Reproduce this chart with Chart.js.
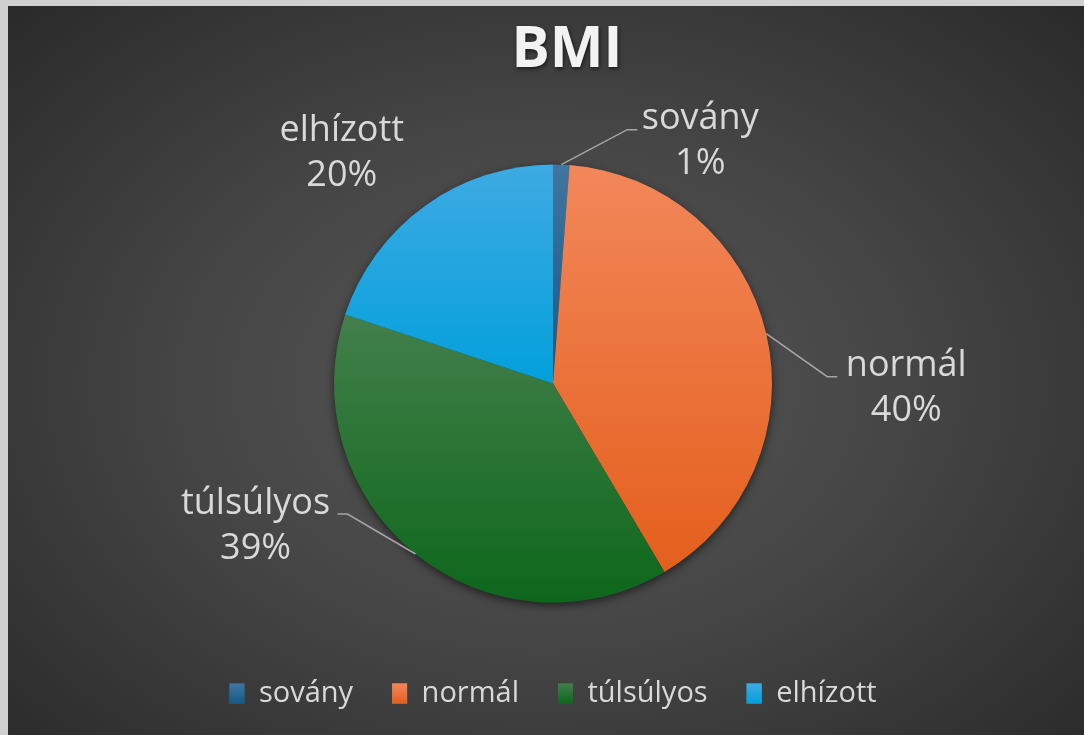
<!DOCTYPE html>
<html>
<head>
<meta charset="utf-8">
<script src="https://cdn.jsdelivr.net/npm/chart.js@4.4.1/dist/chart.umd.min.js"></script>
<style>
  html, body { margin: 0; padding: 0; background: #d0d0d0; overflow: hidden; }
  #wrap {
    position: absolute; left: 8px; top: 6px; width: 1076px; height: 729px;
    background: radial-gradient(ellipse 75% 80% at 50% 52%, #575757 0%, #454545 45%, #262626 100%);
  }
  canvas { display: block; }
</style>
</head>
<body>
<div id="wrap"><canvas id="bmiChart" width="1076" height="729"></canvas></div>
<script>
// BMI categories and their shares (percent)
const categories = ['sovány', 'normál', 'túlsúlyos', 'elhízott'];
const shares = [1.2, 40.3, 38.6, 19.9];
const chartTitle = 'BMI';

// gradient colors per slice: top -> bottom
const topColors = ['#4275a0', '#f2875a', '#437f4b', '#3eaae2'];
const bottomColors = ['#135a88', '#e45f1c', '#0d671b', '#02a0dc'];
const legendColors = ['#24648f', '#ec7237', '#217330', '#1ea4df'];

// where each data label goes relative to the slice edge point
// [elbow dx, elbow dy, text center dx, first line baseline dy, leader?]
const labelPlace = [
    [66, -35, 139, -36, true],
    [61, 43, 140, 42, true],
    [-68, -40, -160, -40, true],
    [0, 0, -83, -65, false]
];

const labelFont = '36px "Open Sans"';
const textColor = '#d9d9d9';

function sliceFill(context) {
    const chart = context.chart;
    const area = chart.chartArea;
    const i = context.dataIndex;
    if (!area || i === undefined) return bottomColors[i || 0];
    const data = chart.data.datasets[0].data;
    const total = data.reduce((a, b) => a + b, 0);
    let cum = 0;
    for (let k = 0; k < i; k++) cum += data[k];
    const a0 = -Math.PI / 2 + 2 * Math.PI * cum / total;
    const a1 = a0 + 2 * Math.PI * data[i] / total;
    const cx = (area.left + area.right) / 2;
    const cy = (area.top + area.bottom) / 2;
    const r = 219;
    let ys = [cy, cy + Math.sin(a0) * r, cy + Math.sin(a1) * r];
    // top / bottom extremes inside the slice
    [-Math.PI / 2, Math.PI / 2, 3 * Math.PI / 2].forEach(function (a) {
        if (a >= a0 && a <= a1) ys.push(cy + Math.sin(a) * r);
    });
    const y0 = Math.min.apply(null, ys);
    const y1 = Math.max.apply(null, ys);
    const g = chart.ctx.createLinearGradient(0, y0, 0, y1 + 1);
    g.addColorStop(0, topColors[i]);
    g.addColorStop(1, bottomColors[i]);
    return g;
}

// shadow under the pie, gradient legend boxes, the title
const piePlugin = {
    id: 'pieExtras',
    beforeDatasetsDraw(chart) {
        const el = chart.getDatasetMeta(0).data[0];
        if (!el) return;
        const ctx = chart.ctx;
        ctx.save();
        ctx.shadowColor = 'rgba(0,0,0,0.55)';
        ctx.shadowBlur = 9;
        ctx.shadowOffsetY = 3;
        ctx.beginPath();
        ctx.arc(el.x, el.y, el.outerRadius, 0, Math.PI * 2);
        ctx.fillStyle = '#333';
        ctx.fill();
        ctx.restore();
    },
    afterDraw(chart) {
        const ctx = chart.ctx;
        const el = chart.getDatasetMeta(0).data[0];
        ctx.save();
        // legend boxes with the same top->bottom gradient
        (chart.legend.legendHitBoxes || []).forEach(function (hb, i) {
            const bw = 15, bh = 20;
            const by = hb.top + (hb.height - bh) / 2;
            const g = ctx.createLinearGradient(0, by, 0, by + bh);
            g.addColorStop(0, topColors[i]);
            g.addColorStop(1, bottomColors[i]);
            ctx.fillStyle = g;
            ctx.fillRect(hb.left, by, bw, bh);
        });
        ctx.font = 'bold 57px "Open Sans"';
        ctx.textAlign = 'center';
        ctx.textBaseline = 'alphabetic';
        ctx.fillStyle = '#f2f2f2';
        ctx.shadowColor = 'rgba(0,0,0,0.6)';
        ctx.shadowBlur = 4;
        ctx.shadowOffsetX = 1;
        ctx.shadowOffsetY = 2;
        ctx.fillText(chartTitle, el.x + 14, 61);
        ctx.restore();
    }
};

// outside labels with leader lines
const labelPlugin = {
    id: 'outsideLabels',
    afterDatasetsDraw(chart) {
        const ctx = chart.ctx;
        const meta = chart.getDatasetMeta(0);
        const data = chart.data.datasets[0].data;
        const total = data.reduce((a, b) => a + b, 0);
        meta.data.forEach(function (arc, i) {
            const mid = (arc.startAngle + arc.endAngle) / 2;
            const px = arc.x + Math.cos(mid) * arc.outerRadius;
            const py = arc.y + Math.sin(mid) * arc.outerRadius;
            const p = labelPlace[i];
            ctx.save();
            if (p[4]) {
                const dir = p[0] > 0 ? 1 : -1;
                ctx.strokeStyle = '#a6a6a6';
                ctx.lineWidth = 1.5;
                ctx.beginPath();
                ctx.moveTo(px, py);
                ctx.lineTo(px + p[0], py + p[1]);
                ctx.lineTo(px + p[0] + dir * 10, py + p[1]);
                ctx.stroke();
            }
            ctx.font = labelFont;
            ctx.fillStyle = textColor;
            ctx.textAlign = 'center';
            ctx.textBaseline = 'alphabetic';
            const pct = Math.round(data[i] / total * 100) + '%';
            ctx.fillText(chart.data.labels[i], px + p[2], py + p[3]);
            ctx.fillText(pct, px + p[2], py + p[3] + 45);
            ctx.restore();
        });
    }
};

new Chart('bmiChart', {
    type: 'pie',
    data: {
        labels: categories,
        datasets: [{
            data: shares,
            backgroundColor: sliceFill,
            borderWidth: 0
        }]
    },
    options: {
        responsive: false,
        animation: false,
        radius: 219,
        layout: { padding: { left: 14, right: 0, top: 121, bottom: 17 } },
        plugins: {
            title: { display: false },
            tooltip: { enabled: false },
            legend: {
                position: 'bottom',
                labels: {
                    color: textColor,
                    font: { family: 'Open Sans', size: 29 },
                    boxWidth: 15,
                    boxHeight: 20,
                    padding: 39,
                    generateLabels(chart) {
                        return chart.data.labels.map(function (l, i) {
                            return {
                                text: l,
                                fillStyle: legendColors[i],
                                strokeStyle: legendColors[i],
                                lineWidth: 0,
                                fontColor: textColor,
                                index: i,
                                hidden: false
                            };
                        });
                    }
                }
            }
        }
    },
    plugins: [piePlugin, labelPlugin]
});
</script>
</body>
</html>
